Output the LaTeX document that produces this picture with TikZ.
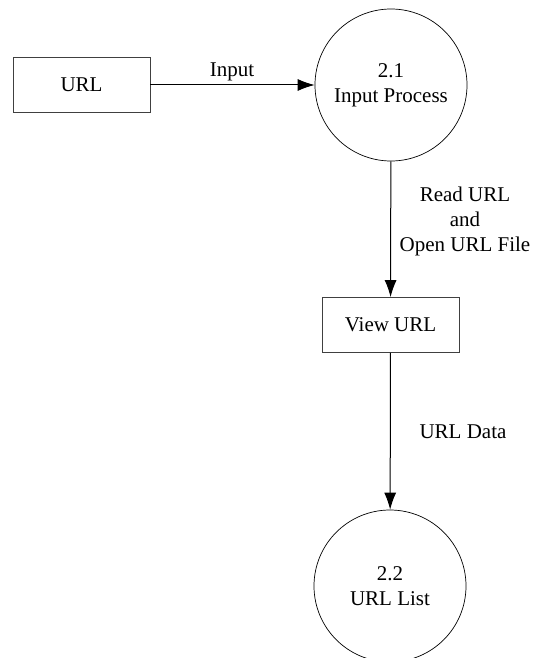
\documentclass[tikz,border=0pt]{standalone}
\usepackage{fontspec}
\setmainfont{Liberation Serif}
\usetikzlibrary{arrows.meta}

\tikzset{
  txt/.style={font=\fontsize{21}{25}\selectfont, align=center},
  store/.style={txt, draw=black!75, line width=0.8pt, rectangle,
                minimum width=137pt, minimum height=55pt, inner sep=0pt},
  proc/.style={txt, draw=black, line width=0.7pt, circle,
               minimum size=152pt, inner sep=0pt},
  flow/.style={line width=1pt, -{Latex[length=17pt,width=12pt]}},
  lbl/.style={txt, inner sep=0pt}
}

\begin{document}
\begin{tikzpicture}[x=1pt, y=-1pt]
  \useasboundingbox (0,0) rectangle (533,658);
  \clip (0,0) rectangle (533,658);

  % external entity and data stores
  \node[store] (url)  at (81.5,85)  {URL};
  \node[store] (view) at (390.5,325) {View URL};

  % processes
  \node[proc] (p21) at (391,85)  {2.1\\Input Process};
  \node[proc] (p22) at (390,586) {2.2\\URL List};

  % data flows
  \draw[flow] (url) -- (p21);
  \draw[flow] (p21) -- (view);
  \draw[flow] (view) -- (p22);

  % flow labels
  \node[lbl, anchor=base] (lin)   at (232,77)    {Input};
  \node[lbl, anchor=north] (lread) at (465,187) {Read URL\\and\\Open URL File};
  \node[lbl, anchor=base] (ldata) at (463,438)   {URL Data};
\end{tikzpicture}
\end{document}
